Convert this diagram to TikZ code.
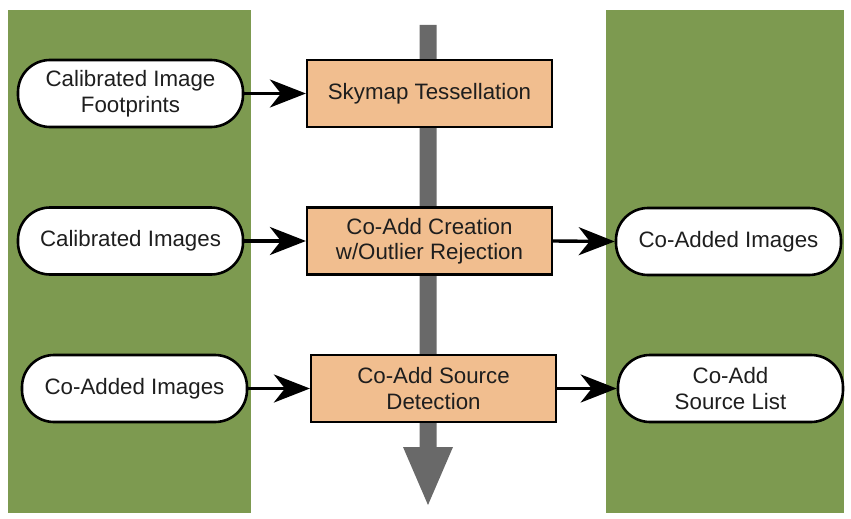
\documentclass[tikz,border=0pt]{standalone}
\usepackage{fontspec}
\setmainfont{Liberation Sans}
\usetikzlibrary{arrows.meta}
\definecolor{panelgreen}{RGB}{125,154,80}
\definecolor{boxorange}{RGB}{241,190,143}
\definecolor{flowgrey}{RGB}{105,105,105}
\definecolor{txt}{RGB}{30,30,30}
\begin{document}
\begin{tikzpicture}[x=1pt,y=-1pt,
  datanode/.style={draw=black, line width=2.6pt, fill=white, rounded corners=32pt,
    minimum width=225pt, minimum height=67pt, align=center, text=txt,
    font=\fontsize{22.3}{25.5}\selectfont, inner sep=0pt},
  procbox/.style={draw=black, line width=2.2pt, fill=boxorange,
    minimum width=245pt, minimum height=67pt, align=center, text=txt,
    font=\fontsize{22.3}{25.5}\selectfont, inner sep=0pt},
  flowarrow/.style={draw=black, line width=3.4pt, -{Stealth[length=36pt,width=28pt,inset=11pt]}}
]
\useasboundingbox (0,0) rectangle (851,519);
% panels
\fill[panelgreen] (8,10) rectangle (251,513);
\fill[panelgreen] (606,10) rectangle (844,513);
% central grey arrow
\fill[flowgrey] (419.5,25) -- (436.5,25) -- (436.5,447) -- (453,447) -- (428,505) -- (403,447) -- (419.5,447) -- cycle;
% nodes
\node[datanode] (fp) at (130.5,93.5) {Calibrated Image\\Footprints};
\node[procbox] (sky) at (429.5,93.5) {Skymap Tessellation};
\node[datanode] (ci) at (130.5,241) {Calibrated Images};
\node[procbox] (coadd) at (429.5,241) {Co-Add Creation\\w/Outlier Rejection};
\node[datanode] (cai) at (728.5,241.5) {Co-Added Images};
\node[datanode] (cai2) at (134.5,388.5) {Co-Added Images};
\node[procbox] (det) at (433.5,388.5) {Co-Add Source\\Detection};
\node[datanode] (src) at (730.5,388.5) {Co-Add\\Source List};
% connectors
\draw[flowarrow] (fp.east) -- (sky.west);
\draw[flowarrow] (ci.east) -- (coadd.west);
\draw[flowarrow] (coadd.east) -- (cai.west);
\draw[flowarrow] (cai2.east) -- (det.west);
\draw[flowarrow] (det.east) -- (src.west);
\end{tikzpicture}
\end{document}
